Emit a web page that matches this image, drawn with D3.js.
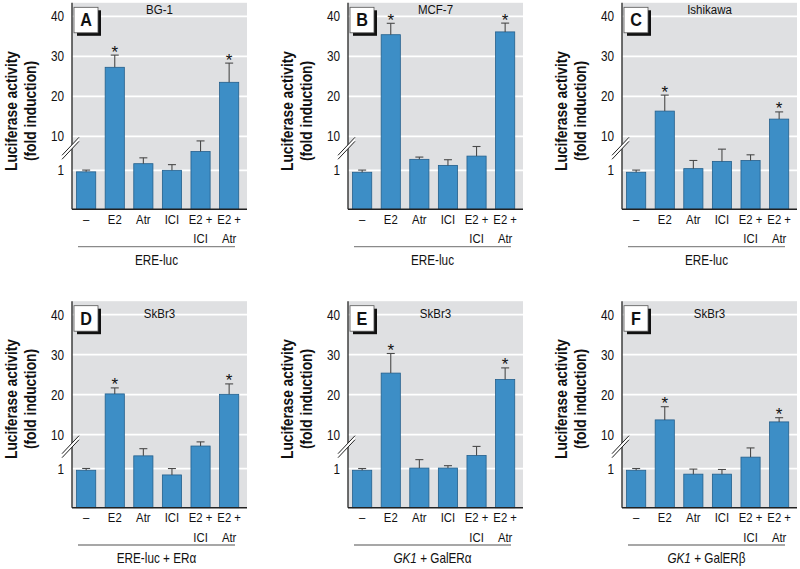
<!DOCTYPE html>
<html><head><meta charset="utf-8">
<script src="https://cdn.jsdelivr.net/npm/d3@7"></script>
<style>
body{margin:0;background:#fff;}
svg{display:block;}
text{font-family:"Liberation Sans",Arial,sans-serif;fill:#111;}
</style></head>
<body><svg id="chart" width="800" height="569"></svg>
<script>
// ---- data ----
const catLine1 = ["\u2013", "E2", "Atr", "ICI", "E2 +", "E2 +"];
const catLine2 = ["", "", "", "", "ICI", "Atr"];
const yTicks = [1, 10, 20, 30, 40];
const panelIds = ["A", "B", "C", "D", "E", "F"];
const cellLines = ["BG-1", "MCF-7", "Ishikawa", "SkBr3", "SkBr3", "SkBr3"];
const constructs = ["ERE-luc", "ERE-luc", "ERE-luc", "ERE-luc + ER\u03b1", "GK1 + GalER\u03b1", "GK1 + GalER\u03b2"];
const meanA = [0.96, 27.25, 2.75, 1.0, 5.98, 23.5];
const semA  = [0.10, 3.05, 1.55, 1.5, 2.8, 4.8];
const meanB = [0.95, 35.4, 3.9, 2.3, 4.76, 36.1];
const semB  = [0.11, 2.85, 0.6, 1.5, 2.54, 2.2];
const meanC = [0.95, 16.3, 1.44, 3.36, 3.6, 14.3];
const semC  = [0.11, 4.0, 2.16, 3.24, 1.5, 1.8];
const meanD = [0.96, 20.2, 4.4, 0.84, 7.0, 20.1];
const semD  = [0.10, 1.5, 1.9, 0.2, 1.1, 2.6];
const meanE = [0.96, 25.4, 1.17, 1.17, 4.5, 23.8];
const semE  = [0.09, 4.9, 2.23, 0.63, 2.4, 2.9];
const meanF = [0.96, 13.7, 0.86, 0.86, 4.06, 13.2];
const semF  = [0.09, 3.3, 0.13, 0.12, 2.44, 1.05];
const significant = [1, 5];

const means = [meanA, meanB, meanC, meanD, meanE, meanF];
const sems = [semA, semB, semC, semD, semE, semF];

// ---- layout ----
const svg = d3.select("#chart");
const axisXs = [72, 348, 622];
const bottoms = [209.3, 507.7];
const plotW = 175;
const titleCY = [111, 399];
const cellTitleDY = [-195, -190];
const barColor = "#3d8ec6", barStroke = "#235f8c", bg = "#dfe0e2";
const SX = 0.84; // condensed look

function ctext(parent, x, y, str, size, sx) {
  return parent.append("text").attr("transform", `translate(${x},${y}) scale(${sx},1)`)
    .attr("text-anchor", "middle").attr("font-size", size).text(str);
}

panelIds.forEach((id, pi) => {
  const col = pi % 3, row = Math.floor(pi / 3);
  const ax = axisXs[col], b = bottoms[row];
  const top = b - 206.5;
  const y = d3.scaleLinear().domain([0, 1, 10, 40]).range([b, b - 39, b - 73, b - 193]);
  const x = d3.scaleBand().domain(d3.range(6)).range([ax, ax + 171.3]).paddingInner(0.33).paddingOuter(0.16);
  const g = svg.append("g");
  const cx = i => x(i) + x.bandwidth() / 2;

  // background
  g.append("rect").attr("x", ax).attr("y", top).attr("width", plotW).attr("height", b - top).attr("fill", bg);
  // grid
  g.selectAll("line.grid").data(yTicks).join("line")
    .attr("x1", ax).attr("x2", ax + plotW).attr("y1", d => y(d)).attr("y2", d => y(d))
    .attr("stroke", "#fff").attr("stroke-width", 1.8);

  // panel letter box
  g.append("rect").attr("x", ax + 5).attr("y", top + 7.5).attr("width", 24).attr("height", 25.5).attr("fill", "#111");
  g.append("rect").attr("x", ax + 2).attr("y", top + 4.5).attr("width", 24).attr("height", 25.5)
    .attr("fill", "#fff").attr("stroke", "#555").attr("stroke-width", 0.8);
  ctext(g, ax + 14, top + 23.5, id, 18, 0.9).attr("font-weight", "bold");

  // cell line title
  ctext(g, ax + plotW / 2, b + cellTitleDY[row], cellLines[pi], 12.5, 0.92);

  // bars
  g.selectAll("rect.bar").data(means[pi]).join("rect")
    .attr("x", (d, i) => x(i)).attr("width", x.bandwidth())
    .attr("y", d => y(d)).attr("height", d => b - y(d))
    .attr("fill", barColor).attr("stroke", barStroke).attr("stroke-width", 0.8);

  // error bars
  const eb = means[pi].map((m, i) => ({i, m, t: m + sems[pi][i]}));
  g.selectAll("line.err").data(eb).join("line")
    .attr("x1", d => cx(d.i)).attr("x2", d => cx(d.i))
    .attr("y1", d => y(d.m)).attr("y2", d => y(d.t)).attr("stroke", "#4a4a4a").attr("stroke-width", 1.1);
  g.selectAll("line.cap").data(eb).join("line")
    .attr("x1", d => cx(d.i) - 4).attr("x2", d => cx(d.i) + 4)
    .attr("y1", d => y(d.t)).attr("y2", d => y(d.t)).attr("stroke", "#4a4a4a").attr("stroke-width", 1.1);
  // asterisks
  eb.filter(d => significant.includes(d.i)).forEach(d => ctext(g, cx(d.i), y(d.t) + 2.5, "*", 17, 1).attr("fill", "#333"));

  // y axis
  const yAxis = d3.axisLeft(y).tickValues(yTicks).tickSize(0).tickPadding(8 / SX);
  const ga = g.append("g").attr("transform", `translate(${ax},0)`).call(yAxis);
  ga.select(".domain").remove();
  ga.selectAll("text").attr("font-size", 14).style("font-family", null).attr("fill", "#111")
    .attr("transform", `scale(${SX},1)`);
  g.append("line").attr("x1", ax).attr("x2", ax).attr("y1", top).attr("y2", b).attr("stroke", "#333").attr("stroke-width", 1.4);
  g.append("line").attr("x1", ax).attr("x2", ax + plotW).attr("y1", b).attr("y2", b).attr("stroke", "#222").attr("stroke-width", 1.4);

  // axis break
  const by = b - 61;
  g.append("path").attr("d", `M${ax - 10},${by + 7} L${ax + 7},${by - 11} L${ax + 7},${by - 7} L${ax - 10},${by + 11} Z`).attr("fill", "#fff");
  [0, 4].forEach(o => g.append("line").attr("x1", ax - 10).attr("y1", by + 7 + o).attr("x2", ax + 7).attr("y2", by - 11 + o)
    .attr("stroke", "#222").attr("stroke-width", 1));

  // x labels
  catLine1.forEach((s, i) => ctext(g, cx(i), b + 14.7, s, 13.5, SX));
  catLine2.forEach((s, i) => { if (s) ctext(g, cx(i), b + 33.8, s, 13.5, SX); });
  g.append("line").attr("x1", ax + 6).attr("x2", ax + 163).attr("y1", b + 37.3).attr("y2", b + 37.3)
    .attr("stroke", "#8a8a8a").attr("stroke-width", 1.4);
  const lab = ctext(g, ax + 84.5, b + 55.5, "", 14, SX);
  const c = constructs[pi];
  if (c.startsWith("GK1")) {
    lab.append("tspan").attr("font-style", "italic").text("GK1");
    lab.append("tspan").text(c.slice(3));
  } else lab.text(c);

  // y title
  const tx = ax - 61, ty = titleCY[row];
  const yt = g.append("text").attr("transform", `translate(${tx},${ty}) rotate(-90) scale(0.81,1)`).attr("text-anchor", "middle")
    .attr("font-size", 17).attr("font-weight", "bold");
  yt.append("tspan").attr("x", 0).attr("dy", "0.35em").text("Luciferase activity");
  yt.append("tspan").attr("x", 0).attr("dy", "1.1em").text("(fold induction)");
});
</script></body></html>
